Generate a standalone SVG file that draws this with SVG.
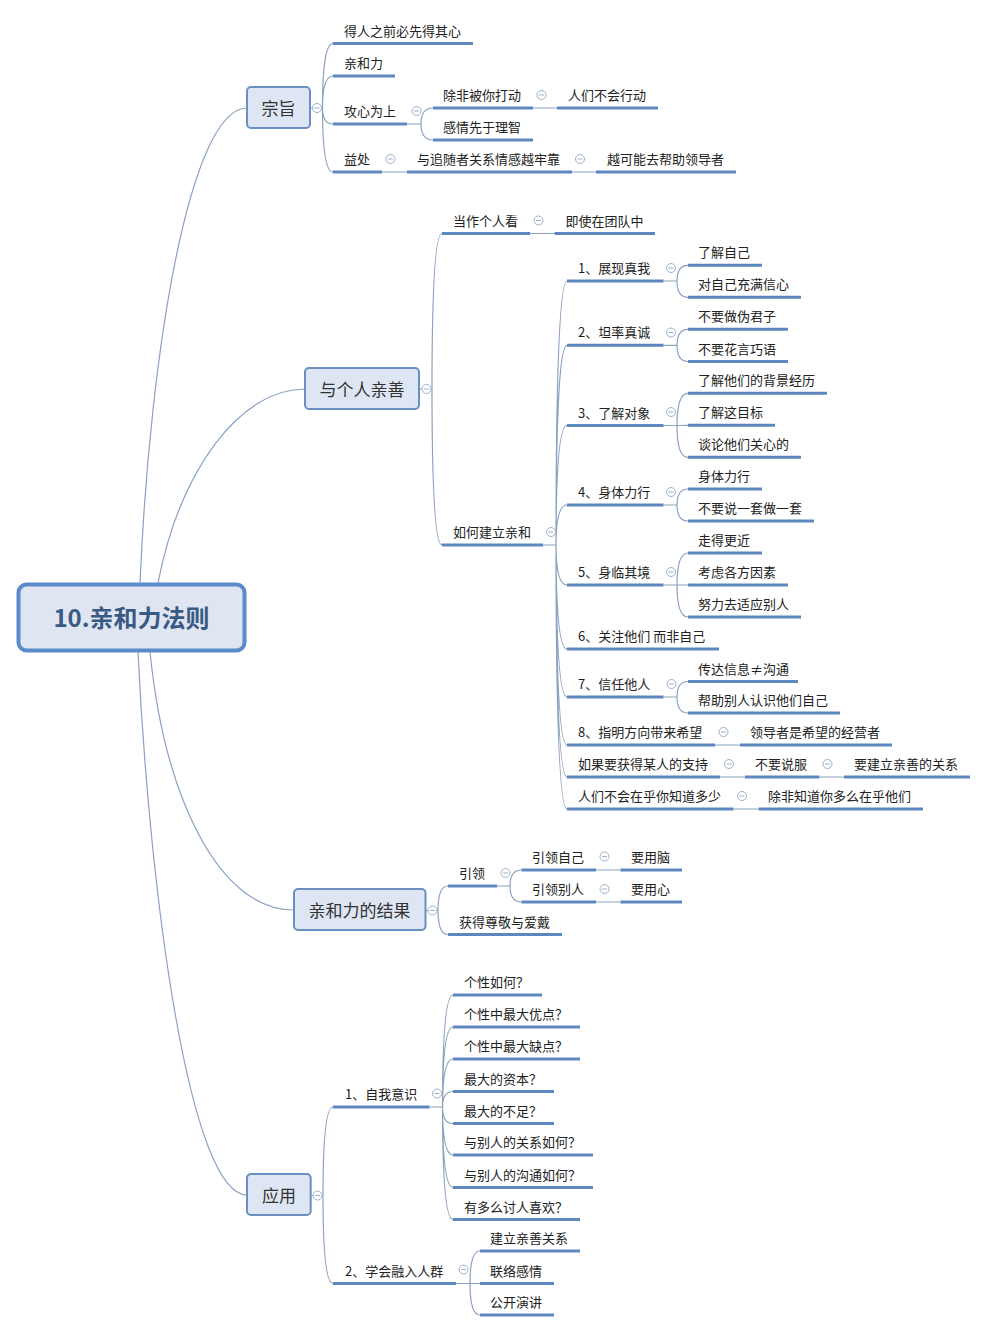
<svg xmlns="http://www.w3.org/2000/svg" width="988" height="1332" viewBox="0 0 988 1332">
<style>
.ul{stroke:#5d88bf;stroke-width:3;fill:none}
.ln{stroke:#8aa1c0;stroke-width:1.2;fill:none}
.t{font-family:"Noto Sans CJK SC","Microsoft YaHei",sans-serif;font-size:13px;fill:#222}
.bt{font-family:"Noto Sans CJK SC","Microsoft YaHei",sans-serif;font-size:17px;fill:#333;text-anchor:middle}
.box{fill:#dde6f2;stroke:#6a90c2;stroke-width:2}
.cc{fill:#fff;stroke:#9db1cc;stroke-width:1}
.cm{stroke:#9db1cc;stroke-width:1}
</style>
<defs>
<g id="col"><circle class="cc" r="4.5"/><line class="cm" x1="-2.5" y1="0" x2="2.5" y2="0"/></g>
</defs>
<rect width="988" height="1332" fill="#fff"/>
<g id="connectors">
<path class="ln" d="M140,583C150,350 190,108 247,108"/>
<path class="ln" d="M158,583C180,470 240,389 305,389"/>
<path class="ln" d="M150,652C165,800 220,910 293.5,910"/>
<path class="ln" d="M138,652C150,900 190,1195 247,1195"/>
<path class="ln" d="M310,108H322.5M322.5,108Q322.5,43.5 333,43.5M322.5,108Q322.5,76 333,76M322.5,108Q322.5,124 333,124M322.5,108Q322.5,172 333,172"/>
<path class="ln" d="M407,124H421M421,124Q421,108 433,108M421,124Q421,140 433,140M533,108H557M382,172H407M572,172H596"/>
<path class="ln" d="M419,389H432M432,389Q432,233.5 442,233.5M432,389Q432,545 442,545M530,233.5H554.5"/>
<path class="ln" d="M543,545H556M556,545Q556,281 567,281M556,545Q556,345.3 567,345.3M556,545Q556,425.5 567,425.5M556,545Q556,505 567,505M556,545Q556,585 567,585M556,545Q556,649 567,649M556,545Q556,697 567,697M556,545Q556,745 567,745M556,545Q556,777 567,777M556,545Q556,809 567,809"/>
<path class="ln" d="M663.5,281H677M677,281Q677,265.3 688,265.3M677,281Q677,297.3 688,297.3"/>
<path class="ln" d="M663.5,345.3H677M677,345.3Q677,329.3 688,329.3M677,345.3Q677,361.5 688,361.5"/>
<path class="ln" d="M663.5,425.5H677M677,425.5Q677,393.3 688,393.3M677,425.5Q677,425.3 688,425.3M677,425.5Q677,457.3 688,457.3"/>
<path class="ln" d="M663.5,505H677M677,505Q677,489 688,489M677,505Q677,521 688,521"/>
<path class="ln" d="M663.5,585H677M677,585Q677,553 688,553M677,585Q677,585 688,585M677,585Q677,617 688,617"/>
<path class="ln" d="M663.5,697H677M677,697Q677,681.5 688,681.5M677,697Q677,713 688,713"/>
<path class="ln" d="M715,745H740M720,777H745M819.5,777H844M733.5,809H758.5"/>
<path class="ln" d="M425.5,910.5H438M438,910.5Q438,886 448,886M438,910.5Q438,934.5 448,934.5M497,886H510M510,886Q510,870 521.5,870M510,886Q510,902 521.5,902M596,870H620.5M596,902H620.5"/>
<path class="ln" d="M310.7,1195.5H323M323,1195.5Q323,1107 333,1107M323,1195.5Q323,1283.5 333,1283.5"/>
<path class="ln" d="M429.5,1107H442.5M442.5,1107Q442.5,995 453,995M442.5,1107Q442.5,1027 453,1027M442.5,1107Q442.5,1059 453,1059M442.5,1107Q442.5,1091.5 453,1091.5M442.5,1107Q442.5,1123.5 453,1123.5M442.5,1107Q442.5,1155 453,1155M442.5,1107Q442.5,1187.5 453,1187.5M442.5,1107Q442.5,1219.5 453,1219.5"/>
<path class="ln" d="M456,1283.5H470M470,1283.5Q470,1251 480,1251M470,1283.5H480M470,1283.5Q470,1315 480,1315"/>
</g>
<g id="root">
<rect x="18.5" y="584.5" width="226" height="66" rx="8" fill="#dfe6f2" stroke="#5b8bcb" stroke-width="4"/>
<text x="131.5" y="627" text-anchor="middle" font-family="'Noto Sans CJK SC','Liberation Sans',sans-serif" font-size="24" font-weight="bold" fill="#3a5a86">10.亲和力法则</text>
</g>
<g id="n-zongzhi">
<rect class="box" x="247" y="87" width="63" height="41" rx="4"/>
<text class="bt" x="278.5" y="114.5">宗旨</text>
<use href="#col" x="317" y="108"/>
</g>
<g id="n-z1"><text class="t" x="344" y="35.5">得人之前必先得其心</text><line class="ul" x1="333" y1="43.5" x2="473" y2="43.5"/></g>
<g id="n-z2"><text class="t" x="344" y="68">亲和力</text><line class="ul" x1="333" y1="76" x2="395" y2="76"/></g>
<g id="n-z3"><text class="t" x="344" y="116">攻心为上</text><line class="ul" x1="333" y1="124" x2="407" y2="124"/><use href="#col" x="416.5" y="111"/></g>
<g id="n-z3a"><text class="t" x="443" y="100">除非被你打动</text><line class="ul" x1="433" y1="108" x2="533" y2="108"/><use href="#col" x="541.5" y="95"/></g>
<g id="n-z3a1"><text class="t" x="568" y="100">人们不会行动</text><line class="ul" x1="557" y1="108" x2="658" y2="108"/></g>
<g id="n-z3b"><text class="t" x="443" y="132">感情先于理智</text><line class="ul" x1="433" y1="140" x2="533" y2="140"/></g>
<g id="n-z4"><text class="t" x="344" y="164">益处</text><line class="ul" x1="333" y1="172" x2="382" y2="172"/><use href="#col" x="390.5" y="159"/></g>
<g id="n-z4a"><text class="t" x="417" y="164">与追随者关系情感越牢靠</text><line class="ul" x1="407" y1="172" x2="572" y2="172"/><use href="#col" x="580" y="159"/></g>
<g id="n-z4a1"><text class="t" x="607" y="164">越可能去帮助领导者</text><line class="ul" x1="596" y1="172" x2="736" y2="172"/></g>

<g id="n-geren">
<rect class="box" x="305" y="368" width="114" height="41" rx="4"/>
<text class="bt" x="362" y="395.5">与个人亲善</text>
<use href="#col" x="426.5" y="389"/>
</g>
<g id="n-g1"><text class="t" x="453" y="225.5">当作个人看</text><line class="ul" x1="442" y1="233.5" x2="530" y2="233.5"/><use href="#col" x="538.5" y="220.5"/></g>
<g id="n-g1a"><text class="t" x="565.5" y="225.5">即使在团队中</text><line class="ul" x1="554.5" y1="233.5" x2="655" y2="233.5"/></g>
<g id="n-g2"><text class="t" x="453" y="537">如何建立亲和</text><line class="ul" x1="442" y1="545" x2="543" y2="545"/><use href="#col" x="551" y="532"/></g>
<g id="n-s1"><text class="t" x="578" y="273">1、展现真我</text><line class="ul" x1="567" y1="281" x2="663.5" y2="281"/><use href="#col" x="671" y="268"/></g>
<g id="n-s1a"><text class="t" x="698" y="257.3">了解自己</text><line class="ul" x1="688" y1="265.3" x2="762" y2="265.3"/></g>
<g id="n-s1b"><text class="t" x="698" y="289.3">对自己充满信心</text><line class="ul" x1="688" y1="297.3" x2="801" y2="297.3"/></g>
<g id="n-s2"><text class="t" x="578" y="337.3">2、坦率真诚</text><line class="ul" x1="567" y1="345.3" x2="663.5" y2="345.3"/><use href="#col" x="671" y="332.5"/></g>
<g id="n-s2a"><text class="t" x="698" y="321.3">不要做伪君子</text><line class="ul" x1="688" y1="329.3" x2="788" y2="329.3"/></g>
<g id="n-s2b"><text class="t" x="698" y="353.5">不要花言巧语</text><line class="ul" x1="688" y1="361.5" x2="788" y2="361.5"/></g>
<g id="n-s3"><text class="t" x="578" y="417.5">3、了解对象</text><line class="ul" x1="567" y1="425.5" x2="663.5" y2="425.5"/><use href="#col" x="671" y="412"/></g>
<g id="n-s3a"><text class="t" x="698" y="385.3">了解他们的背景经历</text><line class="ul" x1="688" y1="393.3" x2="827" y2="393.3"/></g>
<g id="n-s3b"><text class="t" x="698" y="417.3">了解这目标</text><line class="ul" x1="688" y1="425.3" x2="775" y2="425.3"/></g>
<g id="n-s3c"><text class="t" x="698" y="449.3">谈论他们关心的</text><line class="ul" x1="688" y1="457.3" x2="801" y2="457.3"/></g>
<g id="n-s4"><text class="t" x="578" y="497">4、身体力行</text><line class="ul" x1="567" y1="505" x2="663.5" y2="505"/><use href="#col" x="671" y="492"/></g>
<g id="n-s4a"><text class="t" x="698" y="481">身体力行</text><line class="ul" x1="688" y1="489" x2="762" y2="489"/></g>
<g id="n-s4b"><text class="t" x="698" y="513">不要说一套做一套</text><line class="ul" x1="688" y1="521" x2="814" y2="521"/></g>
<g id="n-s5"><text class="t" x="578" y="577">5、身临其境</text><line class="ul" x1="567" y1="585" x2="663.5" y2="585"/><use href="#col" x="671" y="572"/></g>
<g id="n-s5a"><text class="t" x="698" y="545">走得更近</text><line class="ul" x1="688" y1="553" x2="762" y2="553"/></g>
<g id="n-s5b"><text class="t" x="698" y="577">考虑各方因素</text><line class="ul" x1="688" y1="585" x2="788" y2="585"/></g>
<g id="n-s5c"><text class="t" x="698" y="609">努力去适应别人</text><line class="ul" x1="688" y1="617" x2="801" y2="617"/></g>
<g id="n-s6"><text class="t" x="578" y="641">6、关注他们 而非自己</text><line class="ul" x1="567" y1="649" x2="719" y2="649"/></g>
<g id="n-s7"><text class="t" x="578" y="689">7、信任他人</text><line class="ul" x1="567" y1="697" x2="663.5" y2="697"/><use href="#col" x="671.5" y="684"/></g>
<g id="n-s7a"><text class="t" x="698" y="673.5">传达信息≠沟通</text><line class="ul" x1="688" y1="681.5" x2="798" y2="681.5"/></g>
<g id="n-s7b"><text class="t" x="698" y="705">帮助别人认识他们自己</text><line class="ul" x1="688" y1="713" x2="840" y2="713"/></g>
<g id="n-s8"><text class="t" x="578" y="737">8、指明方向带来希望</text><line class="ul" x1="567" y1="745" x2="715" y2="745"/><use href="#col" x="723.5" y="732"/></g>
<g id="n-s8a"><text class="t" x="750" y="737">领导者是希望的经营者</text><line class="ul" x1="740" y1="745" x2="892" y2="745"/></g>
<g id="n-s9"><text class="t" x="578" y="769">如果要获得某人的支持</text><line class="ul" x1="567" y1="777" x2="720" y2="777"/><use href="#col" x="729" y="764"/></g>
<g id="n-s9a"><text class="t" x="755" y="769">不要说服</text><line class="ul" x1="745" y1="777" x2="819.5" y2="777"/><use href="#col" x="827.5" y="764"/></g>
<g id="n-s9a1"><text class="t" x="854" y="769">要建立亲善的关系</text><line class="ul" x1="844" y1="777" x2="970" y2="777"/></g>
<g id="n-s10"><text class="t" x="578" y="801">人们不会在乎你知道多少</text><line class="ul" x1="567" y1="809" x2="733.5" y2="809"/><use href="#col" x="742" y="796"/></g>
<g id="n-s10a"><text class="t" x="768" y="801">除非知道你多么在乎他们</text><line class="ul" x1="758.5" y1="809" x2="923" y2="809"/></g>

<g id="n-jieguo">
<rect class="box" x="294" y="889" width="131.5" height="41" rx="4"/>
<text class="bt" x="359.5" y="916.5">亲和力的结果</text>
<use href="#col" x="432.5" y="910.5"/>
</g>
<g id="n-j1"><text class="t" x="459" y="878">引领</text><line class="ul" x1="448" y1="886" x2="497" y2="886"/><use href="#col" x="505.5" y="873"/></g>
<g id="n-j1a"><text class="t" x="532" y="862">引领自己</text><line class="ul" x1="521.5" y1="870" x2="596" y2="870"/><use href="#col" x="604.5" y="856.5"/></g>
<g id="n-j1a1"><text class="t" x="631" y="862">要用脑</text><line class="ul" x1="620.5" y1="870" x2="682" y2="870"/></g>
<g id="n-j1b"><text class="t" x="532" y="894">引领别人</text><line class="ul" x1="521.5" y1="902" x2="596" y2="902"/><use href="#col" x="604.5" y="889"/></g>
<g id="n-j1b1"><text class="t" x="631" y="894">要用心</text><line class="ul" x1="620.5" y1="902" x2="682" y2="902"/></g>
<g id="n-j2"><text class="t" x="459" y="926.5">获得尊敬与爱戴</text><line class="ul" x1="448" y1="934.5" x2="562" y2="934.5"/></g>

<g id="n-yingyong">
<rect class="box" x="247" y="1174" width="63.7" height="41" rx="4"/>
<text class="bt" x="279" y="1201.5">应用</text>
<use href="#col" x="317.5" y="1195.5"/>
</g>
<g id="n-y1"><text class="t" x="345" y="1099">1、自我意识</text><line class="ul" x1="333" y1="1107" x2="429.5" y2="1107"/><use href="#col" x="437" y="1093.5"/></g>
<g id="n-y1a"><text class="t" x="464" y="987">个性如何？</text><line class="ul" x1="453" y1="995" x2="542" y2="995"/></g>
<g id="n-y1b"><text class="t" x="464" y="1019">个性中最大优点？</text><line class="ul" x1="453" y1="1027" x2="580" y2="1027"/></g>
<g id="n-y1c"><text class="t" x="464" y="1051">个性中最大缺点？</text><line class="ul" x1="453" y1="1059" x2="580" y2="1059"/></g>
<g id="n-y1d"><text class="t" x="464" y="1083.5">最大的资本？</text><line class="ul" x1="453" y1="1091.5" x2="554" y2="1091.5"/></g>
<g id="n-y1e"><text class="t" x="464" y="1115.5">最大的不足？</text><line class="ul" x1="453" y1="1123.5" x2="554" y2="1123.5"/></g>
<g id="n-y1f"><text class="t" x="464" y="1147">与别人的关系如何？</text><line class="ul" x1="453" y1="1155" x2="593" y2="1155"/></g>
<g id="n-y1g"><text class="t" x="464" y="1179.5">与别人的沟通如何？</text><line class="ul" x1="453" y1="1187.5" x2="593" y2="1187.5"/></g>
<g id="n-y1h"><text class="t" x="464" y="1211.5">有多么讨人喜欢？</text><line class="ul" x1="453" y1="1219.5" x2="580" y2="1219.5"/></g>
<g id="n-y2"><text class="t" x="345" y="1275.5">2、学会融入人群</text><line class="ul" x1="333" y1="1283.5" x2="456" y2="1283.5"/><use href="#col" x="463.5" y="1269.5"/></g>
<g id="n-y2a"><text class="t" x="490" y="1243">建立亲善关系</text><line class="ul" x1="480" y1="1251" x2="580" y2="1251"/></g>
<g id="n-y2b"><text class="t" x="490" y="1275.5">联络感情</text><line class="ul" x1="480" y1="1283.5" x2="554" y2="1283.5"/></g>
<g id="n-y2c"><text class="t" x="490" y="1307">公开演讲</text><line class="ul" x1="480" y1="1315" x2="554" y2="1315"/></g>
</svg>
